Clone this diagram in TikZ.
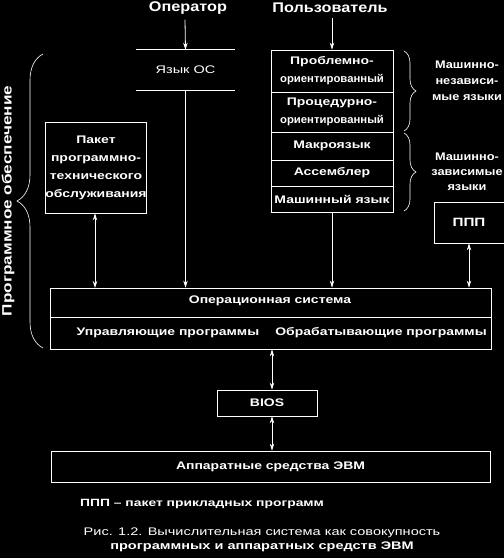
\documentclass[tikz,border=0pt]{standalone}
\usepackage{fontspec}
\setmainfont{Liberation Sans}
\newfontfamily\wf[FakeStretch=1.27,Ligatures=TeX]{Liberation Sans}
\newfontfamily\wft[FakeStretch=1.16,Ligatures=TeX]{Liberation Sans}
\newfontfamily\wfn[FakeStretch=1.03,Ligatures=TeX]{Liberation Sans}
\newfontfamily\wfc[FakeStretch=1.32,Ligatures=TeX]{Liberation Sans}
\usetikzlibrary{arrows.meta,decorations.pathreplacing,calc}
\begin{document}
\begin{tikzpicture}[x=1pt,y=-1pt,
  txt/.style={text=white, font=\wf\bfseries\fontsize{11}{18}\selectfont, inner sep=0pt, align=center},
  box/.style={txt, draw=white, line width=0.8pt},
  ln/.style={draw=white, line width=0.8pt},
  arr/.style={ln, -{Stealth[length=7pt,width=4.5pt]}},
  darr/.style={ln, {Stealth[length=7pt,width=4.5pt]}-{Stealth[length=7pt,width=4.5pt]}},
  brc/.style={ln, line width=0.6pt, decorate},
  title/.style={text=white, font=\wft\bfseries\fontsize{14}{16}\selectfont, inner sep=0pt}
]
\fill[black] (0,0) rectangle (504,558);
\useasboundingbox (0,0) rectangle (504,558);

% titles
\node[title] (oper) at (188,8) {Оператор};
\node[title] (polz) at (330,8) {Пользователь};

% Язык ОС
\node[txt, minimum width=99pt, minimum height=40pt, font=\wfc\fontsize{11}{13}\selectfont] (yaz) at (185.5,70) {Язык ОС};
\draw[ln] (yaz.north west) -- (yaz.north east);
\draw[ln] (yaz.south west) -- (yaz.south east);

% stack
\node[box, minimum width=122pt, minimum height=42pt] (prob) at (332,71) {Проблемно-\\{\wfn\bfseries ориентированный}};
\node[box, minimum width=122pt, minimum height=40pt] (proc) at (332,112) {Процедурно-\\{\wfn\bfseries ориентированный}};
\node[box, minimum width=122pt, minimum height=28pt] (makro) at (332,146) {Макроязык};
\node[box, minimum width=122pt, minimum height=26pt] (asm) at (332,173) {Ассемблер};
\node[box, minimum width=122pt, minimum height=26pt] (mash) at (332,199) {Машинный язык};

% braces right
\draw[brc, decoration={brace, amplitude=12pt}] (404,51) -- (404,131);
\draw[brc, decoration={brace, amplitude=12pt}] (404,133) -- (404,211);
\node[txt, font=\wft\bfseries\fontsize{11}{16}\selectfont] (ind) at (467,81) {Машинно-\\независи-\\мые языки};
\node[txt, font=\wft\bfseries\fontsize{11}{15}\selectfont] (dep) at (467,172) {Машинно-\\зависимые\\языки};

% Пакет
\node[box, minimum width=100pt, minimum height=91pt] (pak) at (96,167.5) {Пакет\\программно-\\технического\\обслуживания};

% ППП
\node[box, minimum width=70pt, minimum height=41pt, font=\wf\bfseries\fontsize{12}{14}\selectfont] (ppp) at (469,222.5) {ППП};

% OS
\node[box, minimum width=441pt, minimum height=61pt] (os) at (270.5,318.5) {};
\draw[ln] (50,317) -- (491,317);
\node[txt] (ostitle) at (270,301) {Операционная система};
\node[txt] (upr) at (168,333) {Управляющие программы};
\node[txt] (obr) at (381,333) {Обрабатывающие программы};

% BIOS
\node[box, minimum width=100pt, minimum height=26pt] (bios) at (267,403) {BIOS};

% hardware
\node[box, minimum width=439pt, minimum height=31pt] (hw) at (270.5,466.5) {Аппаратные средства ЭВМ};

% left brace
\draw[brc, decoration={brace, amplitude=26pt}] (43,348) -- (43,54);
\node[text=white, font=\wf\bfseries\fontsize{13.5}{15}\selectfont, rotate=90, inner sep=0pt] (po) at (8,201) {Программное обеспечение};

% arrows
\draw[arr] (oper.south) ++(-3,5) -- (yaz.north);
\draw[arr] (polz.south -| prob.north) ++(0,5) -- (prob.north);
\draw[arr] (yaz.south) -- (yaz.south |- os.north);
\draw[arr] (mash.south) -- (mash.south |- os.north);
\draw[darr] (pak.south -| 95,0) -- (95,288);
\draw[darr] (ppp.south) -- (ppp.south |- os.north);
\coordinate (bx) at (272,0);
\draw[darr] (os.south -| bx) -- (bios.north -| bx);
\draw[darr] (bios.south -| bx) -- (hw.north -| bx);

% footnote and caption
\node[txt, anchor=west, font=\wfc\bfseries\fontsize{10.5}{12}\selectfont] (fn) at (80,504) {ППП – пакет прикладных программ};
\node[txt, font=\wfc\fontsize{11}{14}\selectfont] (cap) at (262,540) {Рис. 1.2. Вычислительная система как совокупность\\{\wfc\bfseries программных и аппаратных средств ЭВМ}};
\end{tikzpicture}
\end{document}
